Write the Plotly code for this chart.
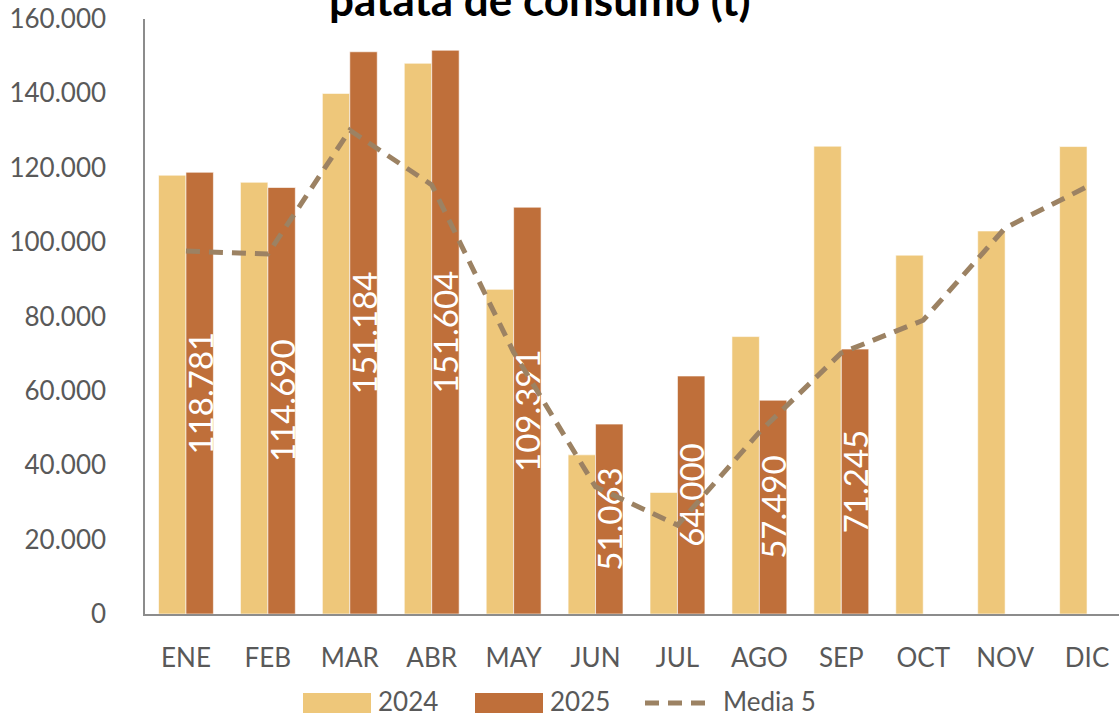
import plotly.graph_objects as go

meses = ["ENE", "FEB", "MAR", "ABR", "MAY", "JUN", "JUL", "AGO", "SEP", "OCT", "NOV", "DIC"]
v2024 = [118000, 116100, 140000, 148100, 87300, 42800, 32700, 74600, 125800, 96500, 103000, 125700]
v2025 = [118781, 114690, 151184, 151604, 109391, 51063, 64000, 57490, 71245, None, None, None]
media5 = [97600, 96800, 130100, 115400, 70400, 34200, 23900, 48900, 70200, 79000, 103800, 114900]

C2024 = "#EEC77A"
C2025 = "#BF6F3A"
CLINE = "#9C8263"
GRIS = "#595959"
FONT = "Lato"

W, H = 1119, 716
L, R, T, B = 145, 0, 19, 102
pw, ph = W - L - R, H - T - B


def px(x):
    return (x - L) / pw


def py(y):
    return (H - B - y) / ph


fig = go.Figure()

fig.add_trace(go.Bar(
    x=meses, y=v2024, name="2024",
    marker=dict(color=C2024, line=dict(color="rgba(255,255,255,0.6)", width=1)),
))
fig.add_trace(go.Bar(
    x=meses, y=v2025, name="2025",
    marker=dict(color=C2025, line=dict(color="rgba(255,255,255,0.6)", width=1)),
    texttemplate="%{y:,.0f}", textposition="inside", insidetextanchor="middle",
    textangle=-90, textfont=dict(color="white", size=33, family=FONT),
))
fig.add_trace(go.Scatter(
    x=meses, y=media5, name="Media 5", mode="lines",
    line=dict(color=CLINE, width=5, dash="14px,9px"),
))

fig.update_layout(
    width=W, height=H,
    margin=dict(l=L, r=R, t=T, b=B, autoexpand=False),
    paper_bgcolor="white", plot_bgcolor="white",
    barmode="group", bargap=0.33, bargroupgap=0,
    separators=",.",
    showlegend=False,
    font=dict(family=FONT, size=26, color=GRIS),
    uniformtext=dict(minsize=33, mode="show"),
    xaxis=dict(
        type="category", range=[-0.5, 11.39], automargin=False,
        showline=True, linecolor="#8c8c8c", linewidth=1.5,
        showgrid=False, ticks="", ticklabelstandoff=20,
        tickfont=dict(size=26, color=GRIS),
    ),
    yaxis=dict(
        range=[0, 160000], dtick=20000, tickformat=",d", automargin=False,
        showline=True, linecolor="#8c8c8c", linewidth=1.5,
        showgrid=False, zeroline=False, ticks="", ticklabelstandoff=32,
        tickfont=dict(size=26, color=GRIS),
    ),
)

# title, cut at the top as in the source image
fig.add_annotation(
    text="<b>patata de consumo (t)</b>", xref="paper", yref="paper",
    x=px(539), y=py(-1), xanchor="center", yanchor="middle", showarrow=False,
    font=dict(family=FONT, size=44, color="black"),
)

# legend drawn by hand to get the wide Excel-style swatches
legend_items = [
    ("2024", "bar", C2024, 303),
    ("2025", "bar", C2025, 475),
    ("Media 5", "line", CLINE, 645),
]
for label, kind, color, x0 in legend_items:
    if kind == "bar":
        fig.add_shape(type="rect", xref="paper", yref="paper",
                      x0=px(x0), x1=px(x0 + 68), y0=py(713), y1=py(693),
                      fillcolor=color, line=dict(width=0))
    else:
        fig.add_shape(type="line", xref="paper", yref="paper",
                      x0=px(x0), x1=px(x0 + 64), y0=py(703), y1=py(703),
                      line=dict(color=color, width=5, dash="14px,9px"))
    fig.add_annotation(
        text=label, xref="paper", yref="paper",
        x=px(x0 + 73 if kind == "bar" else x0 + 76), y=py(701),
        xanchor="left", yanchor="middle", showarrow=False,
        font=dict(family=FONT, size=26, color=GRIS),
    )

fig.write_html(
    "out.html",
    config={"displayModeBar": False},
    post_script="document.body.style.margin = '0';",
)
